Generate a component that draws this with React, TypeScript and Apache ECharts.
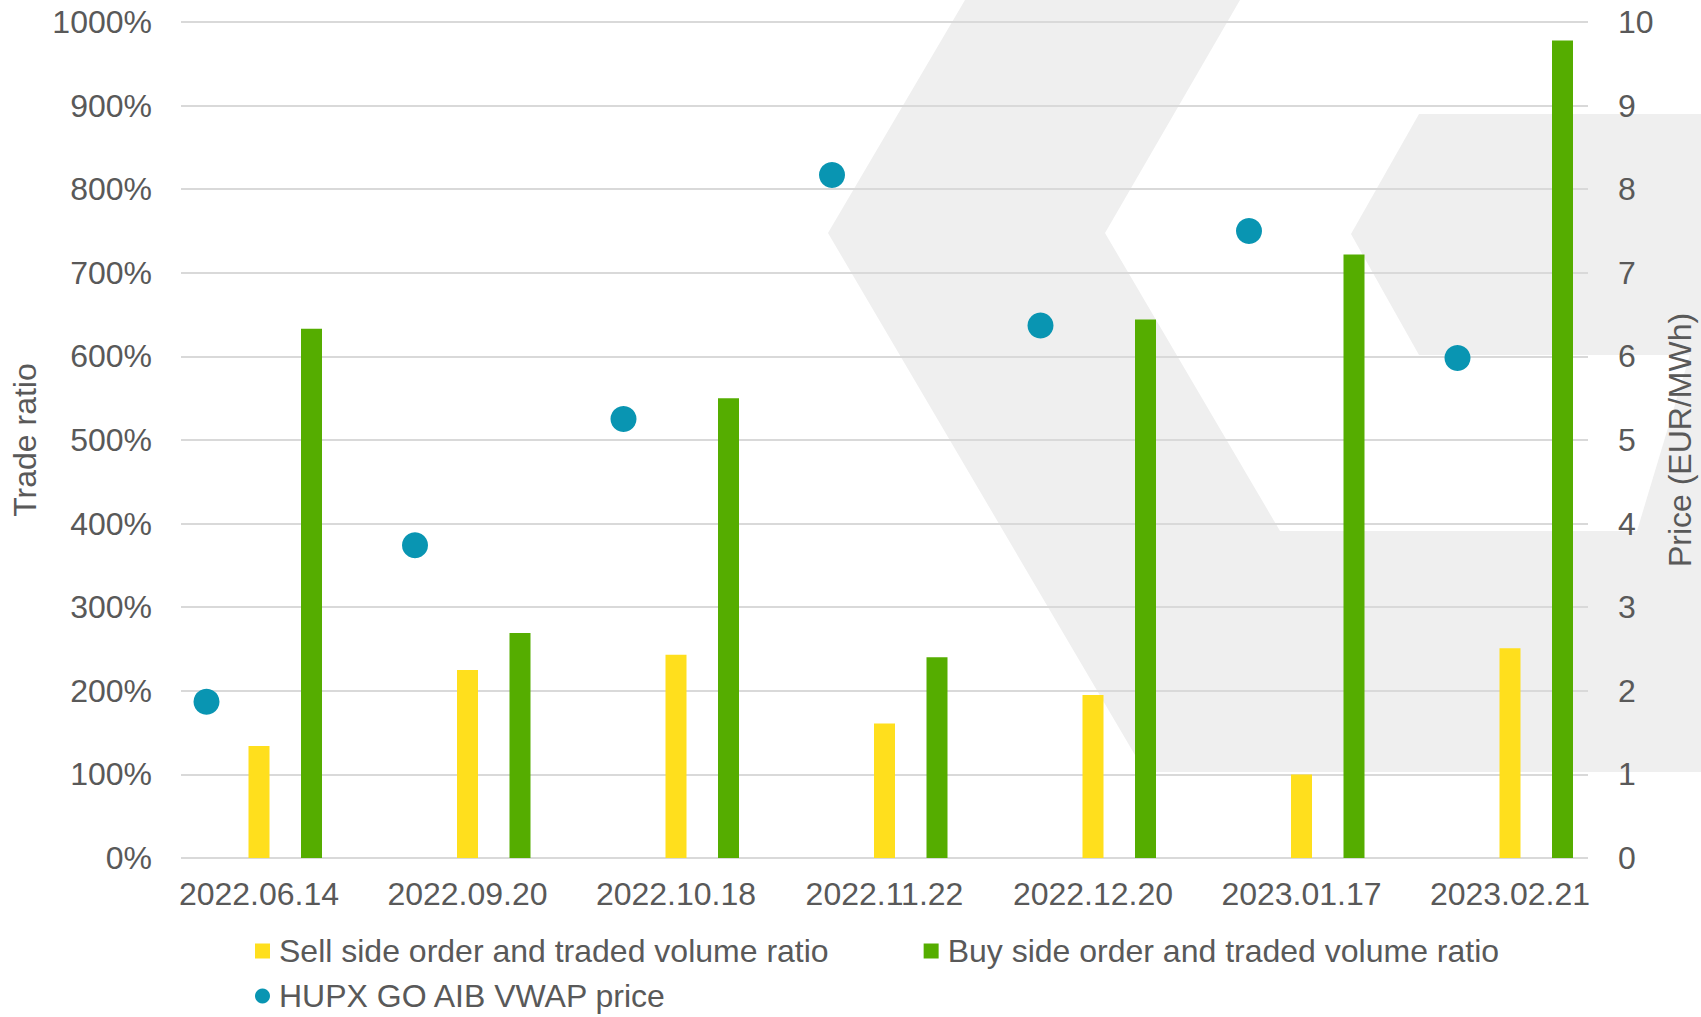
import React, { useEffect, useRef } from "react";
import * as echarts from "echarts";

const categories = ["2022.06.14", "2022.09.20", "2022.10.18", "2022.11.22", "2022.12.20", "2023.01.17", "2023.02.21"];
const sellRatio = [134, 225, 243, 161, 195, 100, 251];
const buyRatio = [633, 269, 550, 240, 644, 722, 978];
const vwapPrice = [1.87, 3.74, 5.25, 8.17, 6.37, 7.5, 5.98];
const spacer = categories.map(() => "-");

const ratioMin = 0;
const ratioMax = 1000;
const ratioStep = 100;
const priceMin = 0;
const priceMax = 10;
const priceStep = 1;

const SELL_NAME = "Sell side order and traded volume ratio";
const BUY_NAME = "Buy side order and traded volume ratio";
const PRICE_NAME = "HUPX GO AIB VWAP price";

const FONT = "'Liberation Sans', Arial, sans-serif";
const TEXT = "#595959";
const GRID_LINE = "#d9d9d9";
const SHAPE = "#efefef";

function buildOption() {
  return {
    animation: false,
    backgroundColor: "#ffffff",
    textStyle: { fontFamily: FONT, color: TEXT },
    graphic: [
      {
        type: "polygon",
        silent: true,
        z: -10,
        shape: {
          points: [
            [965, 0],
            [1240, 0],
            [1105, 233],
            [1280, 531],
            [1701, 531],
            [1701, 772],
            [1145, 772],
            [828, 233],
          ],
        },
        style: { fill: SHAPE },
      },
      {
        type: "polygon",
        silent: true,
        z: -10,
        shape: {
          points: [
            [1419, 114],
            [1701, 114],
            [1701, 355],
            [1419, 355],
            [1351, 234],
          ],
        },
        style: { fill: SHAPE },
      },
      {
        type: "polygon",
        silent: true,
        z: -10,
        shape: {
          points: [
            [1701, 318],
            [1701, 531],
            [1637, 531],
          ],
        },
        style: { fill: SHAPE },
      },
    ],
    grid: [
      { left: 181, right: 113, top: 22, bottom: 159, containLabel: false, outerBoundsMode: "none" },
      { left: 154.75, right: 86.75, top: 22, bottom: 159, containLabel: false, outerBoundsMode: "none" },
    ],
    legend: [
      {
        left: 250,
        top: 930,
        itemWidth: 15,
        itemHeight: 15,
        itemGap: 95,
        icon: "rect",
        data: [SELL_NAME, BUY_NAME],
        textStyle: { fontSize: 32, color: TEXT, fontFamily: FONT, padding: [0, 0, 0, 4] },
      },
      {
        left: 250,
        top: 975,
        itemWidth: 15,
        itemHeight: 15,
        icon: "circle",
        data: [PRICE_NAME],
        textStyle: { fontSize: 32, color: TEXT, fontFamily: FONT, padding: [0, 0, 0, 4] },
      },
    ],
    xAxis: [
      {
        type: "category",
        gridIndex: 0,
        data: categories,
        show: false,
      },
      {
        type: "category",
        gridIndex: 1,
        data: categories,
        axisLine: { show: false },
        axisTick: { show: false },
        splitLine: { show: false },
        axisLabel: { interval: 0, margin: 20, fontSize: 32, color: TEXT, fontFamily: FONT },
      },
    ],
    yAxis: [
      {
        type: "value",
        gridIndex: 0,
        position: "left",
        min: ratioMin,
        max: ratioMax,
        interval: ratioStep,
        name: "Trade ratio",
        nameLocation: "middle",
        nameRotate: 90,
        nameGap: 125,
        nameTextStyle: { fontSize: 32, color: TEXT, fontFamily: FONT },
        axisLine: { show: false },
        axisTick: { show: false },
        axisLabel: {
          margin: 29,
          fontSize: 32,
          color: TEXT,
          fontFamily: FONT,
          formatter: (v: number) => `${v}%`,
        },
        splitLine: { show: true, lineStyle: { color: GRID_LINE, width: 2 } },
      },
      {
        type: "value",
        gridIndex: 0,
        position: "right",
        min: priceMin,
        max: priceMax,
        interval: priceStep,
        name: "Price (EUR/MWh)",
        nameLocation: "middle",
        nameRotate: 90,
        nameGap: 74,
        nameTextStyle: { fontSize: 32, color: TEXT, fontFamily: FONT },
        axisLine: { show: false },
        axisTick: { show: false },
        axisLabel: { margin: 30, fontSize: 32, color: TEXT, fontFamily: FONT, formatter: (v: number) => `${v}` },
        splitLine: { show: false },
      },
      {
        type: "value",
        gridIndex: 1,
        min: ratioMin,
        max: ratioMax,
        interval: ratioStep,
        show: false,
        splitLine: { show: false },
      },
      {
        type: "value",
        gridIndex: 1,
        min: priceMin,
        max: priceMax,
        interval: priceStep,
        show: false,
        splitLine: { show: false },
      },
    ],
    series: [
      {
        name: "spacer",
        type: "bar",
        xAxisIndex: 1,
        yAxisIndex: 2,
        data: spacer,
        barWidth: 21,
        barGap: "150%",
        silent: true,
        itemStyle: { color: "rgba(0,0,0,0)" },
      },
      {
        name: SELL_NAME,
        type: "bar",
        xAxisIndex: 1,
        yAxisIndex: 2,
        data: sellRatio,
        barWidth: 21,
        barGap: "150%",
        itemStyle: { color: "#FFDF1D" },
      },
      {
        name: BUY_NAME,
        type: "bar",
        xAxisIndex: 1,
        yAxisIndex: 2,
        data: buyRatio,
        barWidth: 21,
        barGap: "150%",
        itemStyle: { color: "#55AD00" },
      },
      {
        name: PRICE_NAME,
        type: "scatter",
        xAxisIndex: 1,
        yAxisIndex: 3,
        data: vwapPrice,
        symbol: "circle",
        symbolSize: 26,
        symbolOffset: [-52.5, 0],
        itemStyle: { color: "#0995B2", opacity: 1 },
        z: 5,
      },
    ],
  };
}

export default function App() {
  const ref = useRef<HTMLDivElement>(null);
  useEffect(() => {
    if (!ref.current) return;
    const chart = echarts.init(ref.current, null, { renderer: "svg" });
    chart.setOption(buildOption() as any);
    return () => chart.dispose();
  }, []);
  return (
    <div
      ref={ref}
      style={{ position: "fixed", left: 0, top: 0, width: 1701, height: 1017, background: "#ffffff" }}
    />
  );
}
